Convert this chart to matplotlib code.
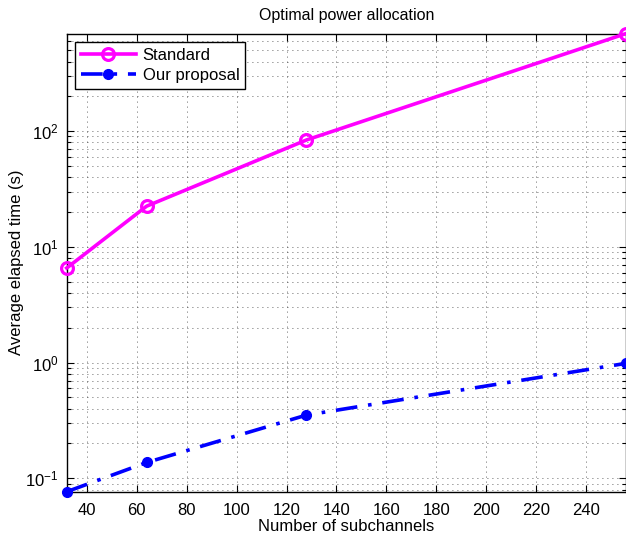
import matplotlib
matplotlib.use("Agg")
import matplotlib.pyplot as plt
from matplotlib.ticker import LogLocator, FixedLocator, NullFormatter

plt.rcParams['font.family'] = ['Liberation Sans', 'DejaVu Sans']

subchannels = [32, 64, 128, 256]
standard_time = [6.57, 22.5, 84.0, 699.0]
proposal_time = [0.0766, 0.137, 0.352, 0.986]
x_ticks = [40, 60, 80, 100, 120, 140, 160, 180, 200, 220, 240]

fig = plt.figure(figsize=(6.26, 5.35), dpi=100)
ax = fig.add_axes([66.7 / 626, 1 - 491.7 / 535, 559.5 / 626, (491.7 - 33.5) / 535])

ax.plot(subchannels, standard_time, color='#ff00ff', lw=2.6, marker='o',
        ms=8.5, mfc='none', mew=2.3, label='Standard', clip_on=False, zorder=5)
ax.plot(subchannels, proposal_time, color='#0000ff', lw=2.6, marker='o',
        ms=7, mfc='#0000ff', mec='#0000ff', ls=(0, (6, 3, 1, 3)),
        label='Our proposal', clip_on=False, zorder=5)

ax.set_yscale('log')
ax.set_xlim(32, 256)
ax.set_ylim(min(proposal_time), max(standard_time))
ax.xaxis.set_major_locator(FixedLocator(x_ticks))
ax.yaxis.set_major_locator(LogLocator(base=10, numticks=10))
ax.yaxis.set_minor_locator(LogLocator(base=10, subs=range(2, 10), numticks=20))
ax.yaxis.set_minor_formatter(NullFormatter())

grid_style = dict(color='#333333', ls=(0, (1, 5)), lw=0.6)
ax.grid(True, which='major', axis='both', **grid_style)
ax.grid(True, which='minor', axis='y', **grid_style)

ax.tick_params(which='both', direction='in', top=True, right=True,
               labelsize=12, width=0.8, pad=6)
ax.tick_params(axis='x', pad=8)
ax.tick_params(which='major', length=5)
ax.tick_params(which='minor', length=3)
for s in ax.spines.values():
    s.set_linewidth(1.0)

ax.set_title('Optimal power allocation', fontsize=11.5, pad=10)
ax.set_xlabel('Number of subchannels', fontsize=12, labelpad=1)
ax.set_ylabel('Average elapsed time (s)', fontsize=12, labelpad=1)

leg = ax.legend(loc='upper left', fontsize=12, fancybox=False, framealpha=1,
                edgecolor='black', handlelength=3.3, borderaxespad=0.5,
                borderpad=0.35, labelspacing=0.3, handletextpad=0.4)
leg.get_frame().set_linewidth(1.0)

fig.savefig('out.png', dpi=100)
